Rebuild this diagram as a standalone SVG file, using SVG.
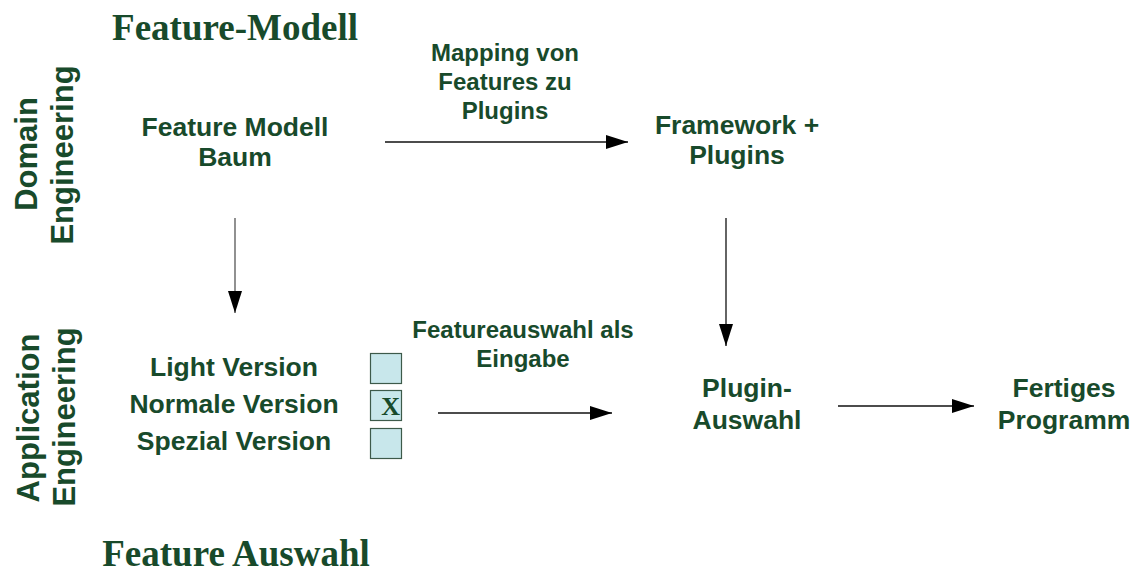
<svg xmlns="http://www.w3.org/2000/svg" width="1138" height="572" viewBox="0 0 1138 572">
  <style>
    .lbl { font-family: "Liberation Sans", Arial, sans-serif; font-weight: bold; fill: #184a2b; text-anchor: middle; }
    .big { font-size: 26.5px; }
    .mid { font-size: 24px; }
    .side { font-size: 31px; }
    .title { font-family: "Liberation Serif", "Times New Roman", serif; font-weight: bold; font-size: 37px; fill: #184a2b; text-anchor: middle; }
    .box { fill: #c8e7eb; stroke: #3d5a4a; stroke-width: 1.2; }
    .conn { stroke: #111; stroke-width: 1.3; fill: none; marker-end: url(#arrow); }
  </style>
  <defs>
    <marker id="arrow" markerUnits="userSpaceOnUse" markerWidth="22" markerHeight="14" refX="22" refY="7" orient="auto">
      <path d="M0,0 L22,7 L0,14 Z" fill="#000"/>
    </marker>
  </defs>
  <rect width="1138" height="572" fill="#fff"/>

  <!-- section titles -->
  <g id="title-feature-modell">
    <text class="title" x="235" y="40">Feature-Modell</text>
  </g>
  <g id="title-feature-auswahl">
    <text class="title" x="236" y="566">Feature Auswahl</text>
  </g>

  <!-- vertical row labels -->
  <g id="row-domain">
    <text class="lbl side" transform="translate(37,154) rotate(-90)">Domain</text>
    <text class="lbl side" transform="translate(73,155) rotate(-90)">Engineering</text>
  </g>
  <g id="row-application">
    <text class="lbl side" transform="translate(39,418) rotate(-90)">Application</text>
    <text class="lbl side" transform="translate(75,417) rotate(-90)">Engineering</text>
  </g>

  <!-- nodes -->
  <g id="node-feature-modell-baum">
    <text class="lbl big" x="235" y="136">Feature Modell</text>
    <text class="lbl big" x="235" y="166">Baum</text>
  </g>
  <g id="node-framework-plugins">
    <text class="lbl big" x="737" y="134">Framework +</text>
    <text class="lbl big" x="737" y="164">Plugins</text>
  </g>
  <g id="node-versions">
    <text class="lbl big" x="234" y="376">Light Version</text>
    <text class="lbl big" x="234" y="413">Normale Version</text>
    <text class="lbl big" x="234" y="450">Spezial Version</text>
    <rect class="box" x="370.5" y="353.5" width="31" height="30"/>
    <rect class="box" x="370.5" y="390.5" width="31" height="30"/>
    <rect class="box" x="370.5" y="428.5" width="31" height="30"/>
    <text x="400" y="415" font-family="'Liberation Serif', 'Times New Roman', serif" font-weight="bold" font-size="26" fill="#184a2b" text-anchor="end">X</text>
  </g>
  <g id="node-plugin-auswahl">
    <text class="lbl big" x="747" y="397">Plugin-</text>
    <text class="lbl big" x="747" y="429">Auswahl</text>
  </g>
  <g id="node-fertiges-programm">
    <text class="lbl big" x="1064" y="397">Fertiges</text>
    <text class="lbl big" x="1064" y="429">Programm</text>
  </g>

  <!-- connectors -->
  <g id="connectors">
    <line class="conn" x1="385" y1="142" x2="628" y2="142"/>
    <line class="conn" x1="235" y1="218" x2="235" y2="313" style="stroke:#555"/>
    <line class="conn" x1="726" y1="218" x2="726" y2="346"/>
    <line class="conn" x1="438" y1="413" x2="612" y2="413"/>
    <line class="conn" x1="838" y1="406" x2="974" y2="406"/>
    <text class="lbl mid" x="505" y="61">Mapping von</text>
    <text class="lbl mid" x="505" y="90">Features zu</text>
    <text class="lbl mid" x="505" y="119">Plugins</text>
    <text class="lbl mid" x="523" y="338">Featureauswahl als</text>
    <text class="lbl mid" x="523" y="367">Eingabe</text>
  </g>
</svg>
